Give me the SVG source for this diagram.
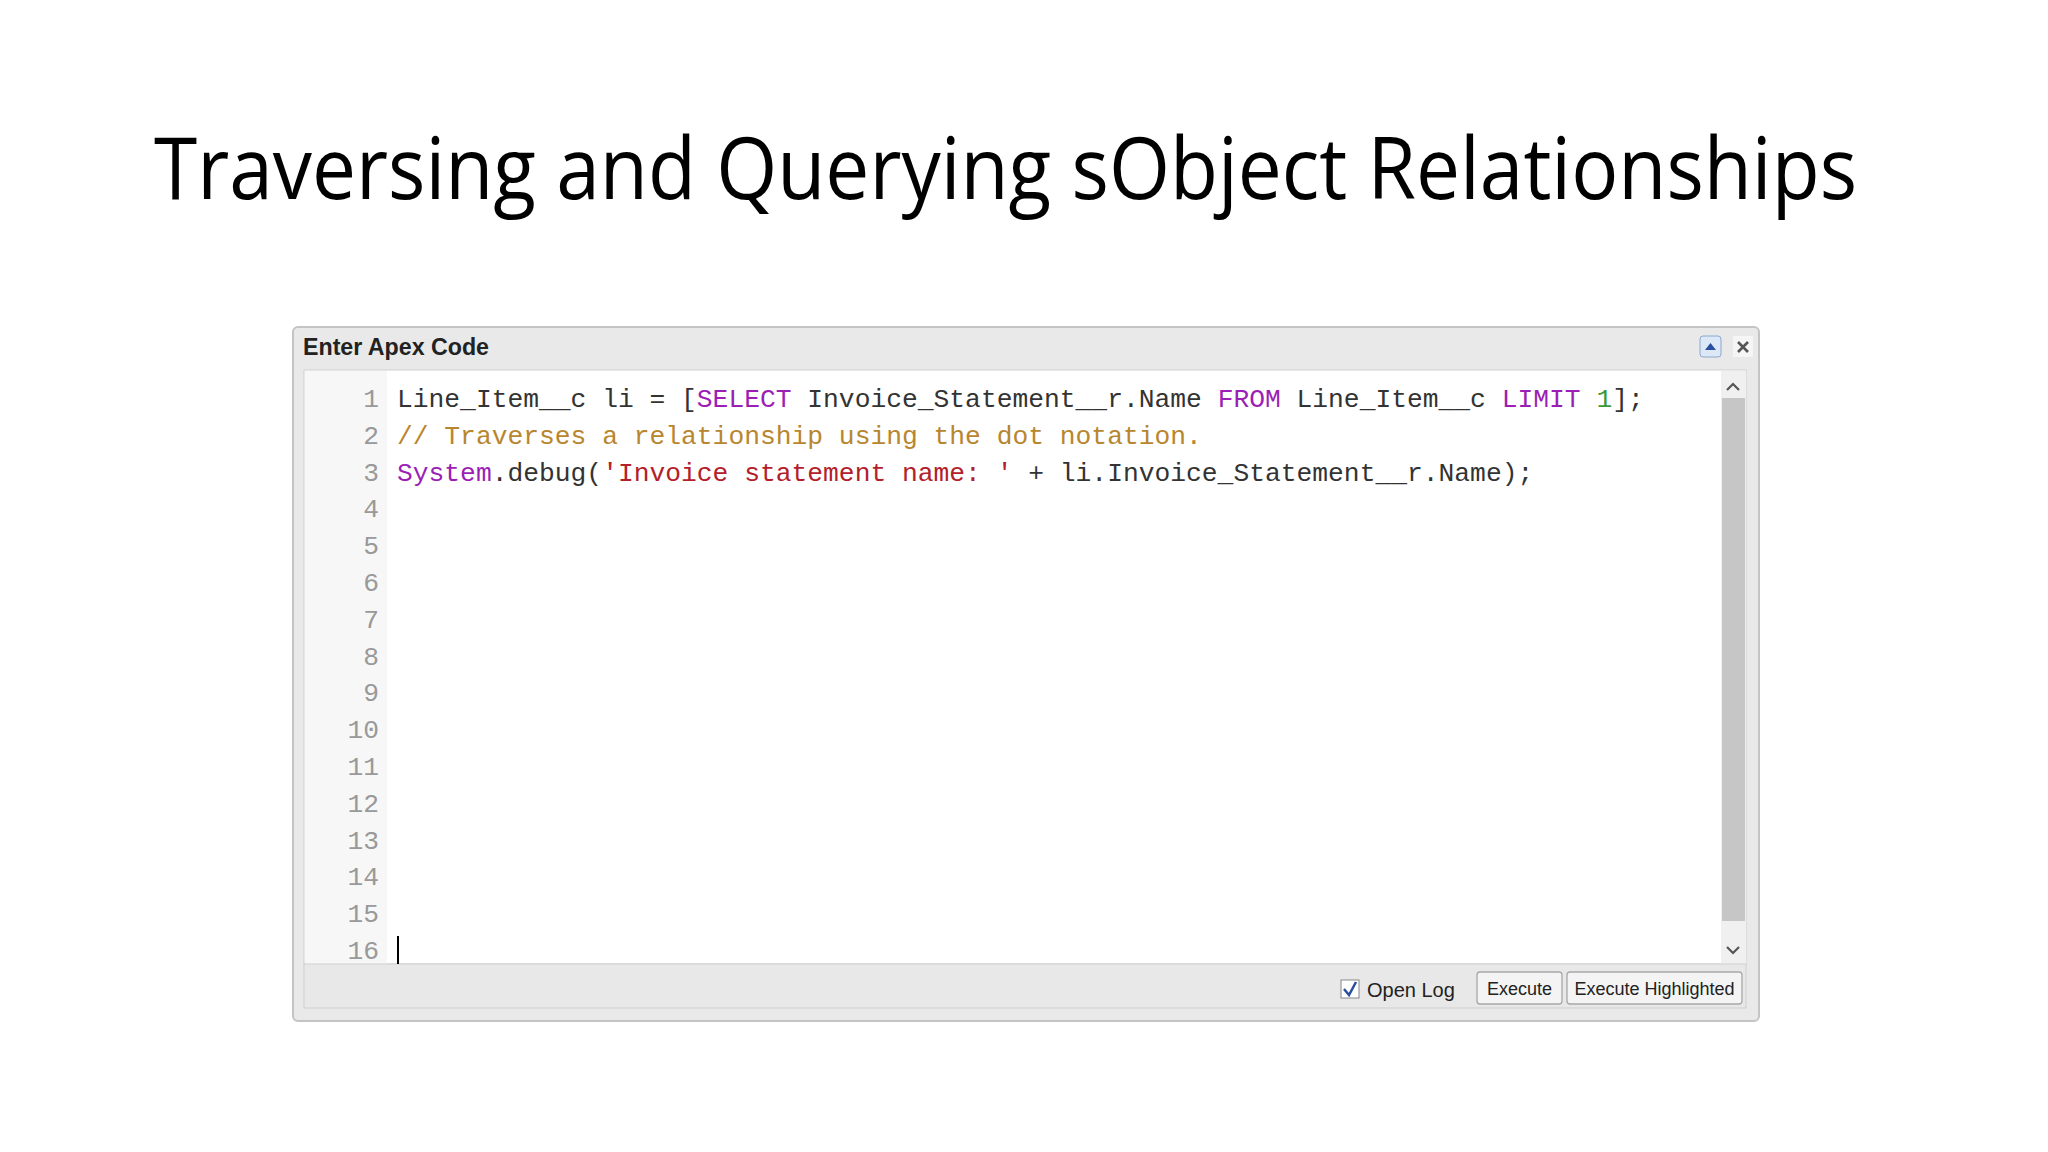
<svg xmlns="http://www.w3.org/2000/svg" width="2048" height="1152" viewBox="0 0 2048 1152">
<style>
.code{font-family:"Liberation Mono","DejaVu Sans Mono",monospace;font-size:26.3px;fill:#333;white-space:pre}
.ln{font-family:"Liberation Mono",monospace;font-size:26.3px;fill:#999;text-anchor:end}
.kw{fill:#9b1fb5}.cm{fill:#b8862e}.st{fill:#b3202a}.nu{fill:#3a9a3a}
.ui{font-family:"Liberation Sans",Arial,sans-serif;fill:#222}
.btn{fill:#f4f4f4;stroke:#a8a8a8;stroke-width:1.3}
</style>
<rect width="2048" height="1152" fill="#fff"/>
<g id="title"><text x="154" y="199" font-family="Open Sans, Liberation Sans, sans-serif" font-size="86" fill="#000" textLength="1703" lengthAdjust="spacingAndGlyphs">Traversing and Querying sObject Relationships</text></g>
<g id="window">
<rect x="293" y="327" width="1466" height="694" rx="5" fill="#e9e9e9" stroke="#c4c4c4" stroke-width="2"/>
<text class="ui" x="303" y="355" font-size="23" font-weight="bold" textLength="186" lengthAdjust="spacingAndGlyphs">Enter Apex Code</text>
<rect x="1700" y="336" width="21" height="21" rx="3" fill="#dde8f6" stroke="#8aa8d0"/>
<path d="M1705 350 L1710.5 343 L1716 350 Z" fill="#2a4fa0"/>
<rect x="1733" y="336" width="20" height="21" fill="#f5f5f5"/>
<path d="M1738 342 L1748 352 M1748 342 L1738 352" stroke="#555" stroke-width="2.6"/>
<rect x="304" y="370" width="1442" height="594" fill="#fff" stroke="#cfcfcf"/>
<rect x="305" y="371" width="82" height="593" fill="#f7f7f7"/>
<rect x="1721" y="371" width="25" height="593" fill="#f0f0f0"/>
<rect x="1722" y="398" width="23" height="523" fill="#c6c6c6"/>
<path d="M1727 390 L1733 384 L1739 390" fill="none" stroke="#555" stroke-width="2.2"/>
<path d="M1727 947 L1733 953 L1739 947" fill="none" stroke="#555" stroke-width="2.2"/>
<rect x="304" y="964" width="1442" height="44" fill="#e8e8e8" stroke="#cfcfcf"/>
<rect x="1341" y="980" width="18" height="18" fill="#fff" stroke="#888"/>
<path d="M1344 989 L1349 995 L1356 982" fill="none" stroke="#2a4fa0" stroke-width="2.5"/>
<text class="ui" x="1367" y="997" font-size="20">Open Log</text>
<rect class="btn" x="1477" y="972" width="85" height="32" rx="3"/>
<text class="ui" x="1519.5" y="995" font-size="18" text-anchor="middle">Execute</text>
<rect class="btn" x="1567" y="972" width="175" height="32" rx="3"/>
<text class="ui" x="1654.5" y="995" font-size="18" text-anchor="middle">Execute Highlighted</text>
</g>
<g id="code">
<text class="ln" x="379" y="407">1</text><text class="ln" x="379" y="443.8">2</text><text class="ln" x="379" y="480.6">3</text><text class="ln" x="379" y="517.4">4</text><text class="ln" x="379" y="554.2">5</text><text class="ln" x="379" y="591">6</text><text class="ln" x="379" y="627.8">7</text><text class="ln" x="379" y="664.6">8</text><text class="ln" x="379" y="701.4">9</text><text class="ln" x="379" y="738.2">10</text><text class="ln" x="379" y="775">11</text><text class="ln" x="379" y="811.8">12</text><text class="ln" x="379" y="848.6">13</text><text class="ln" x="379" y="885.4">14</text><text class="ln" x="379" y="922.2">15</text><text class="ln" x="379" y="959">16</text>
<text class="code" x="397" y="407">Line_Item__c li = [<tspan class="kw">SELECT</tspan> Invoice_Statement__r.Name <tspan class="kw">FROM</tspan> Line_Item__c <tspan class="kw">LIMIT</tspan> <tspan class="nu">1</tspan>];</text>
<text class="code cm" x="397" y="443.8">// Traverses a relationship using the dot notation.</text>
<text class="code" x="397" y="480.6"><tspan class="kw">System</tspan>.debug(<tspan class="st">'Invoice statement name: '</tspan> + li.Invoice_Statement__r.Name);</text>
<rect x="397" y="936" width="2" height="28" fill="#000"/>
</g>
</svg>
